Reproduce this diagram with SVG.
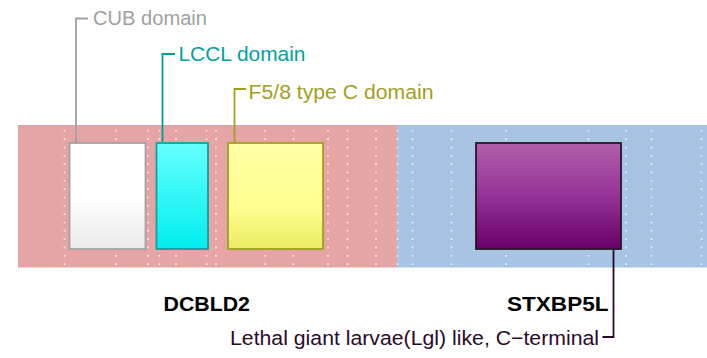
<svg xmlns="http://www.w3.org/2000/svg" width="707" height="358" viewBox="0 0 707 358">
<defs>
<linearGradient id="gCub" x1="0" y1="0" x2="0" y2="1"><stop offset="0" stop-color="#ffffff"/><stop offset="0.5" stop-color="#ffffff"/><stop offset="1" stop-color="#eaeaea"/></linearGradient>
<linearGradient id="gLccl" x1="0" y1="0" x2="0" y2="1"><stop offset="0" stop-color="#66ffff"/><stop offset="1" stop-color="#00eeee"/></linearGradient>
<linearGradient id="gF58" x1="0" y1="0" x2="0" y2="1"><stop offset="0" stop-color="#ffffa6"/><stop offset="0.6" stop-color="#ffff90"/><stop offset="1" stop-color="#eaea66"/></linearGradient>
<linearGradient id="gLgl" x1="0" y1="0" x2="0" y2="1"><stop offset="0" stop-color="#b060ac"/><stop offset="0.5" stop-color="#963296"/><stop offset="1" stop-color="#660066"/></linearGradient>
</defs>
<style>
.dots line{stroke:#ffffff;stroke-width:1.6;stroke-dasharray:1.6 6.73;opacity:0.85}
text{font-family:"Liberation Sans",Arial,sans-serif;font-size:20.5px}
.lbl{font-weight:bold;fill:#000000}
.conn{fill:none;stroke-width:1.8}
</style>
<g id="background">
<rect x="18" y="125" width="379" height="142.5" fill="#e5a5a5"/>
<rect x="397" y="125" width="310" height="142.5" fill="#a8c4e3"/>
</g>
<g class="dots">
<line x1="64.5" y1="130" x2="64.5" y2="266"/>
<line x1="116" y1="130" x2="116" y2="266"/>
<line x1="148" y1="130" x2="148" y2="266"/>
<line x1="159.5" y1="130" x2="159.5" y2="266"/>
<line x1="176" y1="130" x2="176" y2="266"/>
<line x1="206.5" y1="130" x2="206.5" y2="266"/>
<line x1="216" y1="130" x2="216" y2="266"/>
<line x1="265" y1="130" x2="265" y2="266"/>
<line x1="293.5" y1="130" x2="293.5" y2="266"/>
<line x1="328" y1="130" x2="328" y2="266"/>
<line x1="347.5" y1="130" x2="347.5" y2="266"/>
<line x1="376" y1="130" x2="376" y2="266"/>
<line x1="397.5" y1="130" x2="397.5" y2="266"/>
<line x1="412.5" y1="130" x2="412.5" y2="266"/>
<line x1="451.5" y1="130" x2="451.5" y2="266"/>
<line x1="506" y1="130" x2="506" y2="266"/>
<line x1="588.5" y1="130" x2="588.5" y2="266"/>
<line x1="626" y1="130" x2="626" y2="266"/>
<line x1="651.5" y1="130" x2="651.5" y2="266"/>
<line x1="701.5" y1="130" x2="701.5" y2="266"/>
</g>
<g id="connectors">
<polyline class="conn" stroke="#a0a0a0" points="88,18.5 76,18.5 76,143"/>
<polyline class="conn" stroke="#00a0a0" points="175,54 162.5,54 162.5,143"/>
<polyline class="conn" stroke="#a0a020" points="246,89 234.5,89 234.5,143"/>
<polyline class="conn" stroke="#2a0a2a" points="613.5,249 613.5,337 602.5,337"/>
</g>
<g id="cub">
<rect x="69.5" y="143" width="76" height="106" fill="url(#gCub)" stroke="#a3a3a3" stroke-width="1.8"/>
<text x="93" y="24.5" fill="#a0a0a0" textLength="114" lengthAdjust="spacingAndGlyphs">CUB domain</text>
</g>
<g id="lccl">
<rect x="156.5" y="143" width="51.5" height="106" fill="url(#gLccl)" stroke="#10a0a0" stroke-width="1.8"/>
<text x="178.5" y="61" fill="#00a0a0" textLength="127" lengthAdjust="spacingAndGlyphs">LCCL domain</text>
</g>
<g id="f58">
<rect x="228" y="143" width="95" height="106" fill="url(#gF58)" stroke="#a0a020" stroke-width="1.8"/>
<text x="248.5" y="99" fill="#a0a020" textLength="185" lengthAdjust="spacingAndGlyphs">F5/8 type C domain</text>
</g>
<g id="lgl">
<rect x="476" y="143" width="145" height="106" fill="url(#gLgl)" stroke="#2a142a" stroke-width="1.8"/>
<text x="230" y="345" fill="#2a0a2a" textLength="369" lengthAdjust="spacingAndGlyphs">Lethal giant larvae(Lgl) like, C−terminal</text>
</g>
<g id="dcbld2">
<text class="lbl" x="163.5" y="311" textLength="86.5" lengthAdjust="spacingAndGlyphs">DCBLD2</text>
</g>
<g id="stxbp5l">
<text class="lbl" x="507" y="311" textLength="101.5" lengthAdjust="spacingAndGlyphs">STXBP5L</text>
</g>
</svg>
